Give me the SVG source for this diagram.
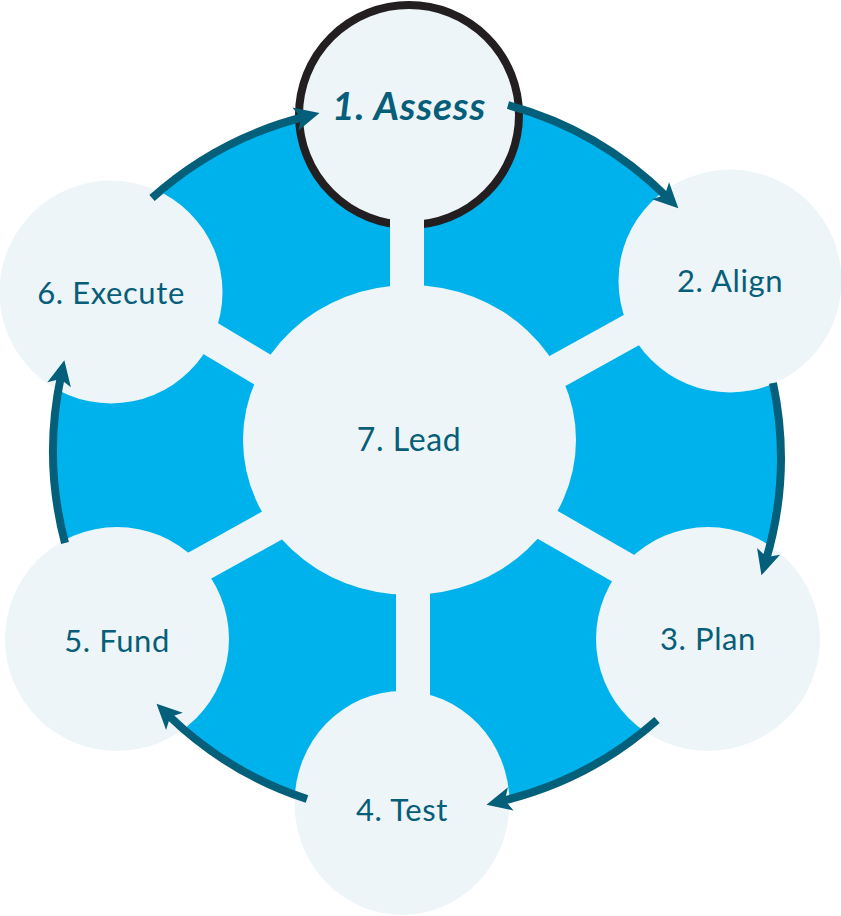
<svg xmlns="http://www.w3.org/2000/svg" width="841" height="916" viewBox="0 0 841 916">
<style>
.node{fill:#EDF5F9}
.lbl{font-family:Lato,"Open Sans","Liberation Sans",sans-serif;font-size:31px;font-weight:400;letter-spacing:0.6px;fill:#065E78;text-anchor:middle}
.spoke{stroke:#EDF5F9;stroke-width:34;stroke-linecap:butt;fill:none}
.arr{stroke:#035F7A;stroke-width:8;fill:none;stroke-linecap:butt;marker-end:url(#ah)}
</style>
<defs>
<marker id="ah" markerUnits="userSpaceOnUse" markerWidth="40" markerHeight="40" viewBox="-20 -20 40 40" refX="0" refY="0" orient="auto" overflow="visible">
<path d="M16,0 L-9,-12 L-3,0 L-9,12 Z" fill="#035F7A"/>
</marker>
</defs>
<rect width="841" height="916" fill="#FFFFFF"/>
<g id="ring">
<path d="M152,198 A360,360 0 0 1 304,117 L508,105 A360,360 0 0 1 667,197 L773,383 A360,360 0 0 1 766,560 L657,720 A360,360 0 0 1 502,801 L307,799 A360,360 0 0 1 168,715 L65,543 A360,360 0 0 1 61,376 Z" fill="#00B2EB"/>
</g>
<g id="node7">
<ellipse class="node" cx="409.5" cy="440" rx="166.5" ry="155"/>
<text class="lbl" x="409" y="451" style="font-size:32px">7. Lead</text>
</g>
<g id="node1">
<circle cx="409" cy="115" r="110" fill="#EDF5F9" stroke="#231F20" stroke-width="8"/>
<text class="lbl" x="409" y="120" style="font-size:39px;font-weight:bold;font-style:italic;letter-spacing:0.8px">1. Assess</text>
</g>
<g id="node2">
<circle class="node" cx="730" cy="281" r="111.5"/>
<text class="lbl" x="730" y="292">2. Align</text>
</g>
<g id="node3">
<circle class="node" cx="708" cy="639" r="112"/>
<text class="lbl" x="708" y="650">3. Plan</text>
</g>
<g id="node4">
<ellipse class="node" cx="402" cy="803" rx="107.5" ry="112"/>
<text class="lbl" x="402" y="821">4. Test</text>
</g>
<g id="node5">
<circle class="node" cx="117" cy="639" r="112"/>
<text class="lbl" x="117" y="652">5. Fund</text>
</g>
<g id="node6">
<circle class="node" cx="111" cy="292" r="111.5"/>
<text class="lbl" x="111" y="304">6. Execute</text>
</g>
<g id="spokes">
<line class="spoke" x1="407" y1="300" x2="407" y2="210"/>
<line class="spoke" x1="413" y1="580" x2="413" y2="705"/>
<line class="spoke" x1="522.5" y1="390.4" x2="657.7" y2="315.5"/>
<line class="spoke" x1="295.8" y1="389.5" x2="184.8" y2="323.1"/>
<line class="spoke" x1="513.3" y1="505.1" x2="649" y2="582.9"/>
<line class="spoke" x1="306" y1="506.6" x2="173.8" y2="580"/>
</g>
<g id="connectors">
<path class="arr" d="M152,198 A360,360 0 0 1 304,117"/>
<path class="arr" d="M508,105 A360,360 0 0 1 667,197"/>
<path class="arr" d="M773,383 A360,360 0 0 1 766,560"/>
<path class="arr" d="M657,720 A360,360 0 0 1 502,801"/>
<path class="arr" d="M307,799 A360,360 0 0 1 168,715"/>
<path class="arr" d="M65,543 A360,360 0 0 1 61,376"/>
</g>
</svg>
